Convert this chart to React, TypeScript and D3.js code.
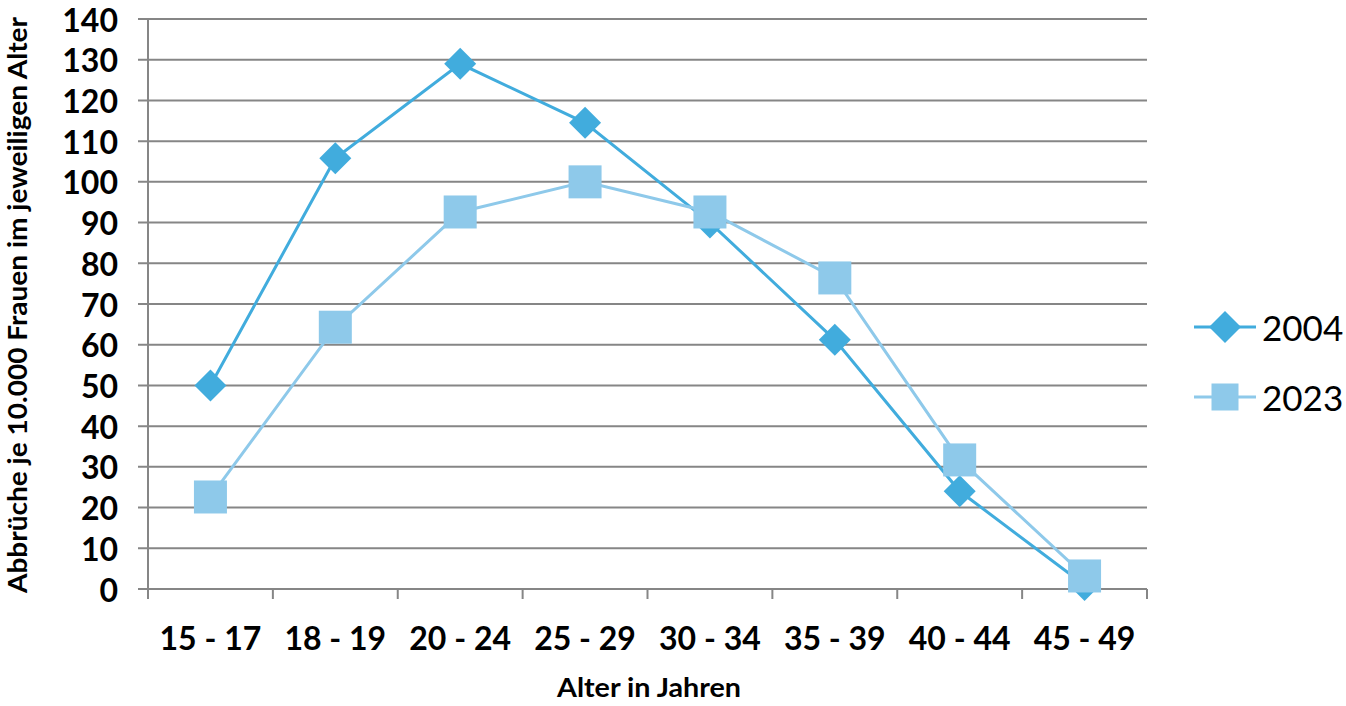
import React from "react";
import * as d3 from "d3";

const categories = ["15 - 17", "18 - 19", "20 - 24", "25 - 29", "30 - 34", "35 - 39", "40 - 44", "45 - 49"];
const values2004 = [50, 105.8, 129, 114.5, 90, 61.2, 24, 1];
const values2023 = [22.6, 64.3, 92.6, 100, 92.6, 76.4, 31.7, 3.2];
const yTicks = [0, 10, 20, 30, 40, 50, 60, 70, 80, 90, 100, 110, 120, 130, 140];
const seriesNames = ["2004", "2023"];

const C2004 = "#41ACDD";
const C2023 = "#8EC9EA";
const GRID = "#868686";
const FONT = "Lato, 'Open Sans', sans-serif";

export default function App() {
  const W = 1346, H = 706;
  const left = 148, right = 1147, top = 19, bottom = 589;
  const x = d3.scaleBand<string>().domain(categories).range([left, right]);
  const y = d3.scaleLinear().domain([0, 140]).range([bottom, top]);
  const cx = (c: string) => (x(c) as number) + x.bandwidth() / 2;
  const line = d3.line<number>().x((_, i) => cx(categories[i])).y((d) => y(d));
  const diamond = (px: number, py: number, r: number) =>
    `M${px},${py - r}L${px + r},${py}L${px},${py + r}L${px - r},${py}Z`;
  const bounds = [...categories.map((c) => x(c) as number), right];

  return (
    <svg width={W} height={H} style={{ position: "absolute", left: 0, top: 0, background: "#fff" }}>
      {yTicks.map((t) => (
        <g key={t}>
          <line x1={left - 10} x2={right} y1={y(t)} y2={y(t)} stroke={GRID} strokeWidth={2} />
          <text x={118} y={y(t)} textAnchor="end" dominantBaseline="central" fontFamily={FONT} fontWeight="bold" fontSize={32} fill="#000">
            {t}
          </text>
        </g>
      ))}
      <line x1={left} x2={left} y1={top} y2={bottom + 10} stroke={GRID} strokeWidth={2} />
      {bounds.map((b, i) => (
        <line key={i} x1={b} x2={b} y1={bottom} y2={bottom + 10} stroke={GRID} strokeWidth={2} />
      ))}
      {categories.map((c) => (
        <text key={c} x={cx(c)} y={637} textAnchor="middle" dominantBaseline="central" fontFamily={FONT} fontWeight="bold" fontSize={32} fill="#000">
          {c}
        </text>
      ))}
      <text x={649} y={686} textAnchor="middle" dominantBaseline="central" fontFamily={FONT} fontWeight="bold" fontSize={27} textLength={184} lengthAdjust="spacingAndGlyphs" fill="#000">
        Alter in Jahren
      </text>
      <text transform={`translate(17,305) rotate(-90)`} textAnchor="middle" dominantBaseline="central" fontFamily={FONT} fontWeight="bold" fontSize={26} textLength={576} lengthAdjust="spacingAndGlyphs" fill="#000">
        Abbrüche je 10.000 Frauen im jeweiligen Alter
      </text>

      <path d={line(values2004) || ""} fill="none" stroke={C2004} strokeWidth={3} />
      {values2004.map((v, i) => (
        <path key={i} d={diamond(cx(categories[i]), y(v), 16)} fill={C2004} />
      ))}
      <path d={line(values2023) || ""} fill="none" stroke={C2023} strokeWidth={3} />
      {values2023.map((v, i) => (
        <rect key={i} x={cx(categories[i]) - 16.5} y={y(v) - 16.5} width={33} height={33} fill={C2023} />
      ))}

      <g>
        <line x1={1194} x2={1256} y1={327} y2={327} stroke={C2004} strokeWidth={3} />
        <path d={diamond(1225, 327, 16)} fill={C2004} />
        <text x={1262} y={327} dominantBaseline="central" fontFamily={FONT} fontSize={35} fill="#000">{seriesNames[0]}</text>
        <line x1={1194} x2={1256} y1={397} y2={397} stroke={C2023} strokeWidth={3} />
        <rect x={1225 - 13.5} y={397 - 13.5} width={27} height={27} fill={C2023} />
        <text x={1262} y={397} dominantBaseline="central" fontFamily={FONT} fontSize={35} fill="#000">{seriesNames[1]}</text>
      </g>
    </svg>
  );
}
